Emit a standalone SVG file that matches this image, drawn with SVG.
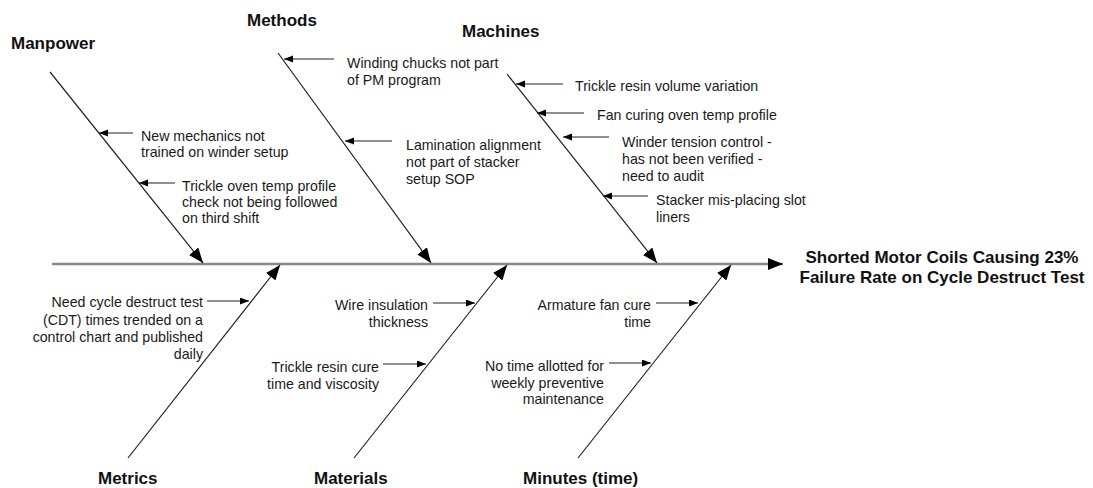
<svg xmlns="http://www.w3.org/2000/svg" width="1093" height="488" viewBox="0 0 1093 488">
<style>
.t{font-family:"Liberation Sans",Arial,sans-serif;font-size:14.2px;fill:#1a1a1a}
.e{text-anchor:end}
.h{font-family:"Liberation Sans",Arial,sans-serif;font-size:17px;font-weight:bold;fill:#111}
.bone{stroke:#222;stroke-width:1.2;fill:none;marker-end:url(#big)}
.sm{stroke:#222;stroke-width:1.2;fill:none;marker-end:url(#small)}
</style>
<defs>
<marker id="big" markerUnits="userSpaceOnUse" markerWidth="16" markerHeight="12" refX="15" refY="6" orient="auto"><path d="M0,0 L15,6 L0,12 z" fill="#000"/></marker>
<marker id="small" markerUnits="userSpaceOnUse" markerWidth="10" markerHeight="8" refX="9" refY="3.5" orient="auto"><path d="M0,0 L9,3.5 L0,7 z" fill="#000"/></marker>
</defs>
<rect width="1093" height="488" fill="#fff"/>
<g id="connectors">
<line x1="52" y1="264" x2="783" y2="264" stroke="#888" stroke-width="2.5" marker-end="url(#big)"/>
<line class="bone" x1="50" y1="72" x2="203" y2="263"/>
<line class="bone" x1="278" y1="53" x2="431" y2="263"/>
<line class="bone" x1="507" y1="74" x2="657" y2="263"/>
<line class="bone" x1="128" y1="458" x2="280" y2="265"/>
<line class="bone" x1="354" y1="458" x2="507" y2="265"/>
<line class="bone" x1="578" y1="458" x2="731" y2="265"/>
<line class="sm" x1="133" y1="133" x2="99" y2="133"/>
<line class="sm" x1="175" y1="183" x2="139" y2="183"/>
<line class="sm" x1="334" y1="59" x2="284" y2="59"/>
<line class="sm" x1="392" y1="141" x2="345" y2="141"/>
<line class="sm" x1="563" y1="84" x2="516" y2="84"/>
<line class="sm" x1="584" y1="113" x2="537" y2="113"/>
<line class="sm" x1="609" y1="137" x2="563" y2="137"/>
<line class="sm" x1="648" y1="196" x2="603" y2="196"/>
<line class="sm" x1="207" y1="301" x2="249" y2="301"/>
<line class="sm" x1="433" y1="303" x2="475" y2="303"/>
<line class="sm" x1="383" y1="364" x2="426" y2="364"/>
<line class="sm" x1="656" y1="303" x2="698" y2="303"/>
<line class="sm" x1="609" y1="363" x2="651" y2="363"/>
</g>
<g id="effect"><text class="h" x="942" y="263" text-anchor="middle">Shorted Motor Coils Causing 23%</text><text class="h" x="942" y="283" text-anchor="middle">Failure Rate on Cycle Destruct Test</text></g>
<g id="manpower"><text class="h" x="11" y="49">Manpower</text>
<text class="t" x="141" y="141">New mechanics not</text><text class="t" x="141" y="157">trained on winder setup</text>
<text class="t" x="182" y="191">Trickle oven temp profile</text><text class="t" x="182" y="207">check not being followed</text><text class="t" x="182" y="223">on third shift</text></g>
<g id="methods"><text class="h" x="247" y="26">Methods</text>
<text class="t" x="347" y="68">Winding chucks not part</text><text class="t" x="347" y="85">of PM program</text>
<text class="t" x="406" y="150">Lamination alignment</text><text class="t" x="406" y="167">not part of stacker</text><text class="t" x="406" y="184">setup SOP</text></g>
<g id="machines"><text class="h" x="462" y="37">Machines</text>
<text class="t" x="575" y="91">Trickle resin volume variation</text>
<text class="t" x="597" y="120">Fan curing oven temp profile</text>
<text class="t" x="622" y="147">Winder tension control -</text><text class="t" x="622" y="164">has not been verified -</text><text class="t" x="622" y="181">need to audit</text>
<text class="t" x="656" y="205">Stacker mis-placing slot</text><text class="t" x="656" y="222">liners</text></g>
<g id="metrics"><text class="h" x="98" y="484">Metrics</text>
<text class="t e" x="203" y="307">Need cycle destruct test</text><text class="t e" x="203" y="324.5">(CDT) times trended on a</text><text class="t e" x="203" y="342">control chart and published</text><text class="t e" x="203" y="359">daily</text></g>
<g id="materials"><text class="h" x="314" y="484">Materials</text>
<text class="t e" x="428" y="310">Wire insulation</text><text class="t e" x="428" y="327">thickness</text>
<text class="t e" x="379" y="372">Trickle resin cure</text><text class="t e" x="379" y="389">time and viscosity</text></g>
<g id="minutes"><text class="h" x="523" y="484">Minutes (time)</text>
<text class="t e" x="651" y="310">Armature fan cure</text><text class="t e" x="651" y="327">time</text>
<text class="t e" x="604" y="371">No time allotted for</text><text class="t e" x="604" y="388">weekly preventive</text><text class="t e" x="604" y="404">maintenance</text></g>
</svg>
